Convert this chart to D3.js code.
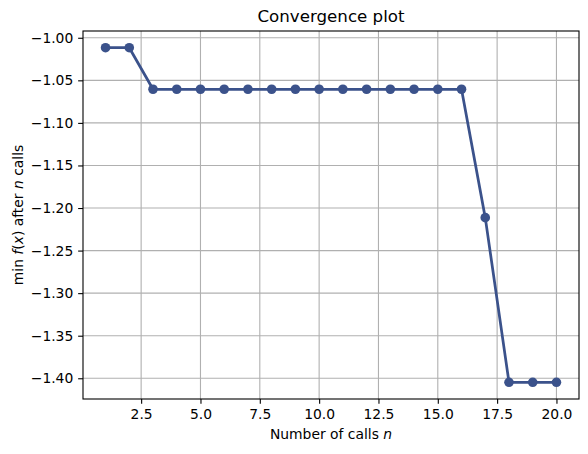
<!DOCTYPE html>
<html><head><meta charset="utf-8">
<script src="https://cdn.jsdelivr.net/npm/d3@7"></script>
<style>
body{margin:0;background:#fff;}
text{font-family:"DejaVu Sans",sans-serif;fill:#000;}
</style></head>
<body><svg id="c" width="588" height="454"></svg>
<script>
const calls = [1,2,3,4,5,6,7,8,9,10,11,12,13,14,15,16,17,18,19,20];
const minValues = [-1.0117,-1.0117,-1.0605,-1.0605,-1.0605,-1.0605,-1.0605,-1.0605,-1.0605,-1.0605,-1.0605,-1.0605,-1.0605,-1.0605,-1.0605,-1.0605,-1.2113,-1.4047,-1.4047,-1.4047];
const xTicks = [2.5,5.0,7.5,10.0,12.5,15.0,17.5,20.0];
const yTicks = [-1.00,-1.05,-1.10,-1.15,-1.20,-1.25,-1.30,-1.35,-1.40];

const svg = d3.select("#c");
const L=83, T=31, W=496, H=368;
const color="#3b528b";
const fs="13.89px";
const xmin=d3.min(calls), xmax=d3.max(calls), xp=(xmax-xmin)*0.05;
const ymin=d3.min(minValues), ymax=d3.max(minValues), yp=(ymax-ymin)*0.05;
const x=d3.scaleLinear().domain([xmin-xp,xmax+xp]).range([L,L+W]);
const y=d3.scaleLinear().domain([ymin-yp,ymax+yp]).range([T+H,T]);

const g=svg.append("g");
g.selectAll(".gx").data(xTicks).join("line")
 .attr("x1",d=>x(d)).attr("x2",d=>x(d)).attr("y1",T).attr("y2",T+H)
 .attr("stroke","#b0b0b0").attr("stroke-width",1.1);
g.selectAll(".gy").data(yTicks).join("line")
 .attr("y1",d=>y(d)).attr("y2",d=>y(d)).attr("x1",L).attr("x2",L+W)
 .attr("stroke","#b0b0b0").attr("stroke-width",1.1);

const line=d3.line().x((d,i)=>x(calls[i])).y(d=>y(d));
svg.append("path").datum(minValues).attr("d",line)
 .attr("fill","none").attr("stroke",color).attr("stroke-width",2.75).attr("stroke-linejoin","round");
svg.selectAll(".pt").data(minValues).join("circle")
 .attr("cx",(d,i)=>x(calls[i])).attr("cy",d=>y(d)).attr("r",4.8).attr("fill",color);

const fmtX=d3.format(".1f");
const fmtY=v=>d3.format(".2f")(v).replace("-","\u2212");
const xa=d3.axisBottom(x).tickValues(xTicks).tickFormat(fmtX).tickSize(4.86).tickPadding(4.86);
const ya=d3.axisLeft(y).tickValues(yTicks).tickFormat(fmtY).tickSize(4.86).tickPadding(4.86);
const gx=svg.append("g").attr("transform",`translate(0,${T+H})`).call(xa);
const gy=svg.append("g").attr("transform",`translate(${L},0)`).call(ya);
[gx,gy].forEach(a=>{
  a.select(".domain").remove();
  a.selectAll("line").attr("stroke","#000").attr("stroke-width",1.1);
  a.selectAll("text").attr("font-family","DejaVu Sans").attr("font-size",fs).attr("fill","#000");
});
svg.append("rect").attr("x",L).attr("y",T).attr("width",W).attr("height",H)
 .attr("fill","none").attr("stroke","#000").attr("stroke-width",1.1);

svg.append("text").attr("x",L+W/2).attr("y",22).attr("text-anchor","middle")
 .attr("font-size","16.67px").text("Convergence plot");
const xl=svg.append("text").attr("x",L+W/2).attr("y",439).attr("text-anchor","middle").attr("font-size",fs);
xl.append("tspan").text("Number of calls ");
xl.append("tspan").attr("font-style","italic").text("n");
const yl=svg.append("text").attr("transform",`translate(23,${T+H/2}) rotate(-90)`).attr("text-anchor","middle").attr("font-size",fs);
yl.append("tspan").text("min ");
yl.append("tspan").attr("font-style","italic").text("f");
yl.append("tspan").text("(");
yl.append("tspan").attr("font-style","italic").text("x");
yl.append("tspan").text(") after ");
yl.append("tspan").attr("font-style","italic").text("n");
yl.append("tspan").text(" calls");
</script></body></html>
